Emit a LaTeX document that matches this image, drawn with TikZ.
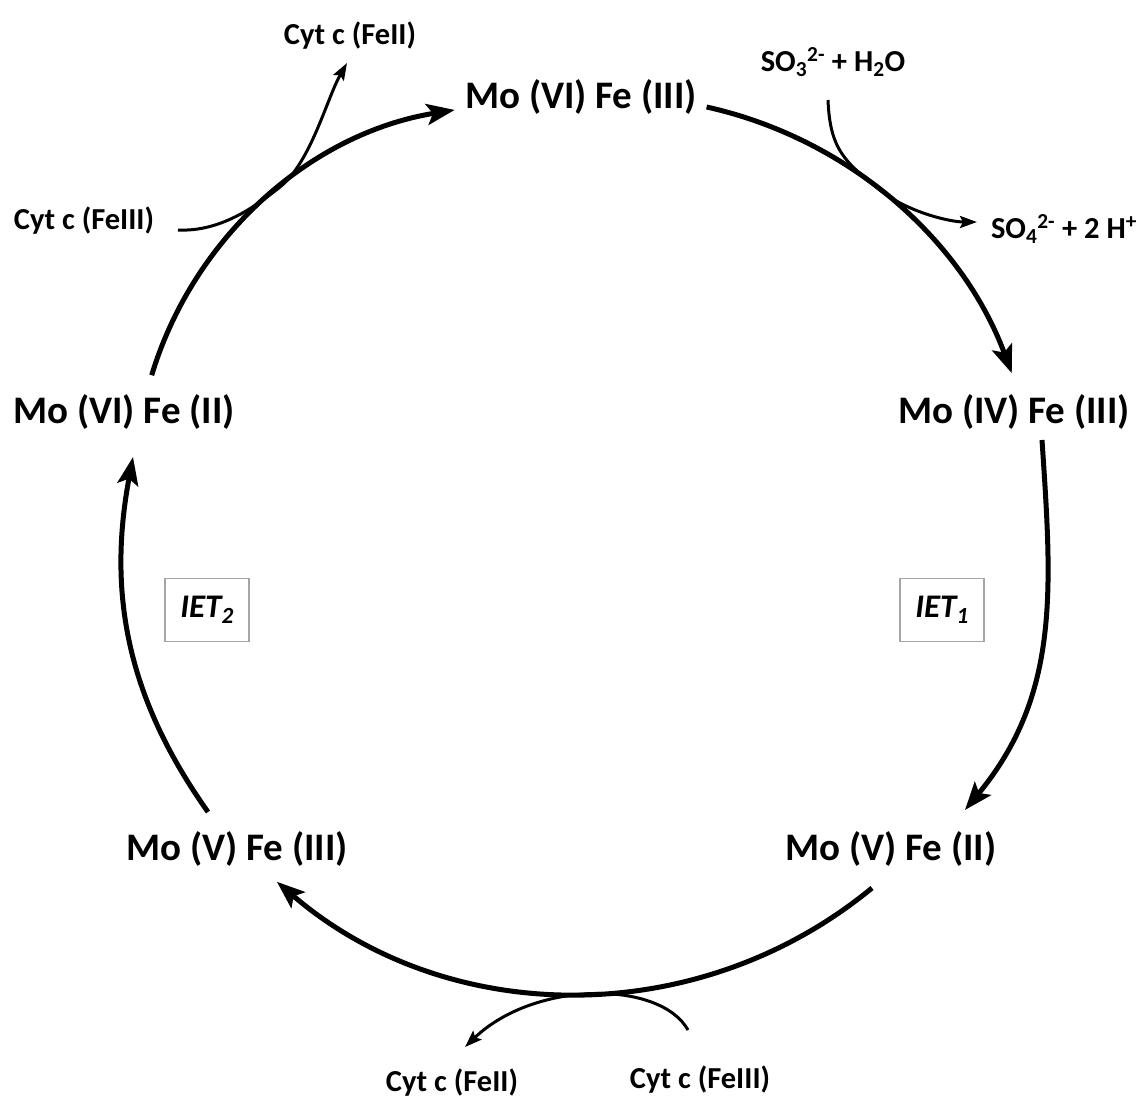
\documentclass[tikz,border=0pt]{standalone}
\usepackage{fontspec}
\setmainfont{Carlito}
\usetikzlibrary{arrows.meta}
\begin{document}
\begin{tikzpicture}[x=1pt,y=-1pt,
  main/.style={font=\bfseries\fontsize{39}{43}\selectfont, anchor=base, inner sep=0pt},
  small/.style={font=\bfseries\fontsize{30.5}{34}\selectfont, anchor=base, inner sep=0pt},
  cyc/.style={line width=5pt, -{Stealth[length=28pt,width=21pt,inset=6pt]}},
  side/.style={line width=3pt, -{Stealth[length=17pt,width=12pt,inset=3pt]}},
  ietbox/.style={draw=black!35, line width=1.2pt, minimum width=84pt, minimum height=63pt,
    inner sep=0pt, font=\bfseries\itshape\fontsize{33}{35}\selectfont}
]
\useasboundingbox (0,0) rectangle (1136,1098);

% main states
\node[main] (vi3)  at (581,108)  {Mo (VI) Fe (III)};
\node[main] (iv3)  at (1014,423) {Mo (IV) Fe (III)};
\node[main] (v2)   at (891,860)  {Mo (V) Fe (II)};
\node[main] (v3)   at (237,860)  {Mo (V) Fe (III)};
\node[main] (vi2)  at (124,423)  {Mo (VI) Fe (II)};

% side species
\node[small] (cyt2t) at (350,44)   {Cyt c (FeII)};
\node[small] (cyt3l) at (84,229)   {Cyt c (FeIII)};
\node[small] (so3)   at (833,71)   {SO\textsubscript{3}\textsuperscript{2-} + H\textsubscript{2}O};
\node[small] (so4)   at (1064,238) {SO\textsubscript{4}\textsuperscript{2-} + 2 H\textsuperscript{+}};
\node[small] (cyt2b) at (452,1091) {Cyt c (FeII)};
\node[small] (cyt3b) at (700,1088) {Cyt c (FeIII)};

% IET boxes
\node[ietbox] (iet2) at (207,610) {IET\textsubscript{2}};
\node[ietbox] (iet1) at (942,610) {IET\textsubscript{1}};

% arc start points (on their circles)
\coordinate (a1s) at (151.7,375.2);
\coordinate (a2s) at (706.6,107);
\coordinate (a3s) at (1042,440);  \coordinate (a3e) at (965,810);
\coordinate (a4s) at (872,888);
\coordinate (a5s) at (208,812);   \coordinate (a5e) at (133,457);

% main cycle
\draw[cyc] (a1s) arc[start angle=-163.2, end angle=-99.2, radius=380];
\draw[cyc] (a2s) arc[start angle=-77.5, end angle=-20.3, radius=423];
\draw[cyc] (a3s) .. controls (1052,590) and (1060,695) .. (a3e);
\draw[cyc] (a4s) arc[start angle=50.5, end angle=130.7, radius=462];
\draw[cyc] (a5s) .. controls (125,695) and (108,590) .. (a5e);

% side arrows
\coordinate (b1s) at (178,230); \coordinate (b1t) at (280,187); \coordinate (b1e) at (347,63);
\coordinate (b2s) at (828,100); \coordinate (b2t) at (880,190); \coordinate (b2e) at (977,222);
\coordinate (b3s) at (688,1030); \coordinate (b3e) at (465,1047);
\draw[side] (b1s) .. controls (220,232) and (255,207) .. (b1t)
                  .. controls (311,162) and (327,98) .. (b1e);
\draw[side] (b2s) .. controls (830,150) and (845,162) .. (b2t)
                  .. controls (907,212) and (950,222) .. (b2e);
\draw[side] (b3s) .. controls (660,980) and (535,980) .. (b3e);
\end{tikzpicture}
\end{document}
